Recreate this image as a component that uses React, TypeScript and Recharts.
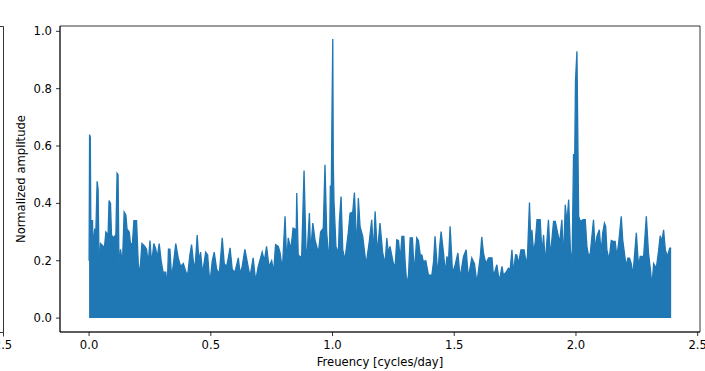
import React from 'react';
import { AreaChart, Area, XAxis, YAxis, ReferenceArea } from 'recharts';

// periodogram envelope (frequency in cycles/day, normalized amplitude)
const freq = [
  0.000, 0.002, 0.005, 0.007, 0.014, 0.016, 0.023, 0.028, 0.033, 0.037,
  0.041, 0.047, 0.058, 0.060, 0.069, 0.078, 0.082, 0.088, 0.092, 0.099,
  0.110, 0.115, 0.119, 0.123, 0.129, 0.137, 0.144, 0.151, 0.156, 0.165,
  0.170, 0.178, 0.184, 0.195, 0.202, 0.208, 0.217, 0.229, 0.236, 0.243,
  0.250, 0.257, 0.266, 0.274, 0.280, 0.288, 0.296, 0.304, 0.315, 0.321,
  0.326, 0.332, 0.339, 0.348, 0.356, 0.366, 0.376, 0.387, 0.398, 0.405,
  0.414, 0.421, 0.428, 0.435, 0.444, 0.451, 0.458, 0.466, 0.479, 0.487,
  0.496, 0.506, 0.514, 0.524, 0.535, 0.547, 0.555, 0.565, 0.572, 0.579,
  0.588, 0.599, 0.613, 0.620, 0.629, 0.640, 0.651, 0.661, 0.674, 0.684,
  0.695, 0.711, 0.720, 0.729, 0.739, 0.750, 0.758, 0.766, 0.777, 0.784,
  0.794, 0.805, 0.812, 0.818, 0.829, 0.838, 0.846, 0.850, 0.853, 0.859,
  0.873, 0.883, 0.891, 0.896, 0.905, 0.910, 0.919, 0.928, 0.942, 0.951,
  0.962, 0.969, 0.976, 0.987, 0.991, 0.995, 0.998, 1.001, 1.003, 1.006,
  1.014, 1.024, 1.028, 1.035, 1.042, 1.051, 1.065, 1.072, 1.083, 1.090,
  1.100, 1.106, 1.113, 1.124, 1.138, 1.151, 1.161, 1.168, 1.175, 1.184,
  1.195, 1.206, 1.216, 1.223, 1.229, 1.236, 1.250, 1.257, 1.264, 1.271,
  1.278, 1.285, 1.293, 1.298, 1.305, 1.312, 1.319, 1.328, 1.336, 1.346,
  1.353, 1.360, 1.367, 1.373, 1.383, 1.394, 1.408, 1.415, 1.421, 1.433,
  1.439, 1.446, 1.456, 1.463, 1.470, 1.476, 1.483, 1.493, 1.504, 1.515,
  1.524, 1.538, 1.549, 1.558, 1.572, 1.583, 1.593, 1.607, 1.613, 1.620,
  1.630, 1.641, 1.655, 1.661, 1.675, 1.685, 1.696, 1.702, 1.713, 1.723,
  1.730, 1.737, 1.743, 1.752, 1.757, 1.764, 1.774, 1.787, 1.796, 1.801,
  1.809, 1.815, 1.819, 1.826, 1.833, 1.840, 1.853, 1.860, 1.867, 1.874,
  1.881, 1.887, 1.894, 1.901, 1.908, 1.915, 1.924, 1.933, 1.942, 1.949,
  1.956, 1.963, 1.970, 1.977, 1.984, 1.990, 1.995, 1.998, 2.004, 2.008,
  2.011, 2.018, 2.029, 2.038, 2.045, 2.052, 2.059, 2.072, 2.079, 2.086,
  2.096, 2.103, 2.110, 2.117, 2.122, 2.127, 2.136, 2.145, 2.155, 2.161,
  2.168, 2.176, 2.186, 2.192, 2.199, 2.206, 2.213, 2.220, 2.227, 2.234,
  2.248, 2.257, 2.264, 2.278, 2.289, 2.298, 2.306, 2.312, 2.319, 2.330,
  2.339, 2.346, 2.353, 2.360, 2.367, 2.376, 2.385, 2.391,
];

const amp = [
  0.20, 0.64, 0.63, 0.34, 0.34, 0.25, 0.31, 0.31, 0.477, 0.45,
  0.18, 0.26, 0.25, 0.22, 0.30, 0.29, 0.41, 0.40, 0.29, 0.28,
  0.29, 0.505, 0.50, 0.16, 0.24, 0.19, 0.37, 0.36, 0.31, 0.30,
  0.26, 0.26, 0.34, 0.34, 0.19, 0.15, 0.26, 0.25, 0.24, 0.19,
  0.27, 0.19, 0.26, 0.24, 0.21, 0.26, 0.20, 0.16, 0.16, 0.11,
  0.24, 0.24, 0.14, 0.20, 0.26, 0.21, 0.18, 0.19, 0.16, 0.15,
  0.22, 0.256, 0.20, 0.17, 0.29, 0.20, 0.23, 0.155, 0.23, 0.22,
  0.12, 0.20, 0.23, 0.17, 0.155, 0.28, 0.19, 0.18, 0.21, 0.245,
  0.17, 0.16, 0.21, 0.155, 0.18, 0.24, 0.19, 0.145, 0.21, 0.13,
  0.18, 0.23, 0.20, 0.25, 0.18, 0.20, 0.16, 0.256, 0.25, 0.23,
  0.17, 0.355, 0.19, 0.28, 0.24, 0.314, 0.31, 0.25, 0.436, 0.22,
  0.21, 0.515, 0.24, 0.227, 0.366, 0.227, 0.331, 0.273, 0.227, 0.30,
  0.314, 0.535, 0.297, 0.19, 0.46, 0.46, 0.733, 0.973, 0.55, 0.407,
  0.25, 0.227, 0.337, 0.424, 0.238, 0.203, 0.30, 0.366, 0.37, 0.438,
  0.238, 0.419, 0.32, 0.285, 0.186, 0.267, 0.343, 0.227, 0.372, 0.227,
  0.331, 0.227, 0.19, 0.279, 0.227, 0.25, 0.19, 0.18, 0.273, 0.27,
  0.203, 0.285, 0.285, 0.20, 0.116, 0.15, 0.28, 0.28, 0.157, 0.28,
  0.27, 0.221, 0.22, 0.197, 0.20, 0.151, 0.15, 0.197, 0.285, 0.145,
  0.238, 0.302, 0.227, 0.157, 0.215, 0.19, 0.32, 0.157, 0.186, 0.227,
  0.14, 0.215, 0.238, 0.14, 0.21, 0.19, 0.122, 0.215, 0.283, 0.227,
  0.19, 0.21, 0.21, 0.145, 0.186, 0.128, 0.18, 0.15, 0.16, 0.174,
  0.17, 0.238, 0.157, 0.221, 0.22, 0.19, 0.238, 0.238, 0.186, 0.221,
  0.403, 0.25, 0.308, 0.227, 0.267, 0.343, 0.343, 0.227, 0.29, 0.19,
  0.273, 0.343, 0.215, 0.273, 0.337, 0.337, 0.30, 0.262, 0.343, 0.203,
  0.395, 0.331, 0.413, 0.238, 0.19, 0.57, 0.57, 0.826, 0.93, 0.60,
  0.355, 0.337, 0.343, 0.343, 0.25, 0.215, 0.227, 0.343, 0.238, 0.285,
  0.308, 0.227, 0.297, 0.331, 0.32, 0.238, 0.203, 0.271, 0.267, 0.267,
  0.215, 0.267, 0.355, 0.273, 0.227, 0.18, 0.209, 0.209, 0.19, 0.151,
  0.297, 0.18, 0.215, 0.215, 0.355, 0.227, 0.168, 0.11, 0.19, 0.174,
  0.232, 0.287, 0.267, 0.308, 0.238, 0.215, 0.244, 0.244,
];

const xTicks = [0, 0.5, 1.0, 1.5, 2.0, 2.5];
const yTicks = [0, 0.2, 0.4, 0.6, 0.8, 1.0];
const xDomain = [-0.1195, 2.5095];
const yDomain = [-0.0485, 1.0185];

const data = freq.map((f, i) => ({ f, a: amp[i] }));

const FONT = 'DejaVu Sans, Liberation Sans, sans-serif';
const BLUE = '#1f77b4';

const YLabel = (props: any) => {
  const { viewBox } = props;
  const x = viewBox.x + 21;
  const y = viewBox.y + viewBox.height / 2;
  return (
    <text x={x} y={y} transform={`rotate(-90 ${x} ${y})`} textAnchor="middle"
      dominantBaseline="central" fontSize={11.6} fill="#000" fontFamily={FONT}>
      Normalized amplitude
    </text>
  );
};

const Title = (props: any) => {
  const { viewBox } = props;
  return (
    <text x={viewBox.x + viewBox.width / 2} y={viewBox.y - 8} textAnchor="middle"
      fontSize={13.9} fill="#000" fontFamily={FONT}>
      HARPS
    </text>
  );
};

// clipped edge of the neighbouring subplot on the left
const LeftEdge = () => (
  <svg width={20} height={371} style={{ position: 'absolute', left: 0, top: 0 }}>
    <path d="M0 26.5 H3.5 V332.5 H0" fill="none" stroke="#000" strokeWidth={0.8} />
    <line x1={3.5} y1={332.5} x2={3.5} y2={336.5} stroke="#000" strokeWidth={0.8} />
    <text x={3} y={349} textAnchor="middle" fontSize={11.6} fontFamily={FONT} fill="#000">2.5</text>
  </svg>
);

export default function App() {
  return (
    <div style={{ position: 'absolute', left: 0, top: 0, width: 705, height: 371, background: '#fff' }}>
      <LeftEdge />
      <div style={{ position: 'absolute', left: 0, top: 0 }}>
        <AreaChart width={705} height={371} data={data}
          margin={{ top: 26, right: 5, bottom: 0, left: 0 }}
          style={{ fontFamily: FONT }}>
          <XAxis dataKey="f" type="number" domain={xDomain} ticks={xTicks}
            allowDataOverflow interval={0} height={39}
            tickFormatter={(v: number) => v.toFixed(1)}
            tick={{ fontSize: 11.6, fill: '#000' }}
            tickSize={4} tickMargin={5}
            axisLine={{ stroke: '#000', strokeWidth: 0.8 }}
            tickLine={{ stroke: '#000', strokeWidth: 0.8 }}
            label={{ value: 'Freuency [cycles/day]', position: 'insideBottom', offset: 5, fontSize: 11.6, fill: '#000' }} />
          <XAxis xAxisId="top" orientation="top" type="number" domain={[0, 1]} height={0}
            tick={false} tickLine={false} axisLine={false}
            label={<Title />} />
          <YAxis type="number" domain={yDomain} ticks={yTicks}
            allowDataOverflow interval={0} width={60}
            tickFormatter={(v: number) => v.toFixed(1)}
            tick={{ fontSize: 11.6, fill: '#000' }}
            tickSize={4} tickMargin={4}
            axisLine={{ stroke: '#000', strokeWidth: 0.8 }}
            tickLine={{ stroke: '#000', strokeWidth: 0.8 }}
            label={<YLabel />} />
          <Area dataKey="a" type="linear" baseValue={0} stroke={BLUE} strokeWidth={1.3}
            fill={BLUE} fillOpacity={1} dot={false} activeDot={false}
            isAnimationActive={false} />
          {/* axes frame (top and right spines) */}
          <ReferenceArea x1={xDomain[0]} x2={xDomain[1]} y1={yDomain[0]} y2={yDomain[1]}
            ifOverflow="visible" fill="none" stroke="#000" strokeWidth={0.8} />
        </AreaChart>
      </div>
    </div>
  );
}
